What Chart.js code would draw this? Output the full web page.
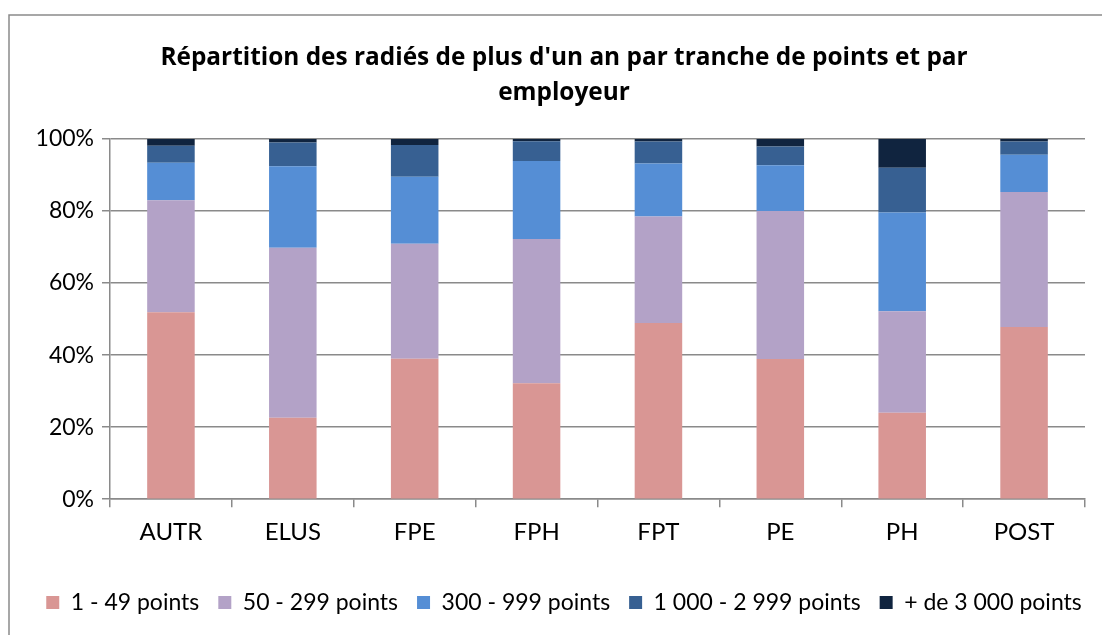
<!DOCTYPE html>
<html lang="fr">
<head>
<meta charset="utf-8">
<title>Répartition des radiés</title>
<script src="https://cdn.jsdelivr.net/npm/chart.js@4"></script>
<style>
  html, body { margin: 0; padding: 0; background: #fff; }
  #wrap { width: 1102px; height: 635px; position: relative; }
</style>
</head>
<body>
<div id="wrap"><canvas id="chart" width="1102" height="635"></canvas></div>
<script>
// Employer categories (x axis)
const employeurs = ['AUTR', 'ELUS', 'FPE', 'FPH', 'FPT', 'PE', 'PH', 'POST'];

// Share of each points bracket, in %
const tranche1_49     = [51.9, 22.6, 39.0, 32.2, 48.9, 38.9, 24.0, 47.8];
const tranche50_299   = [31.1, 47.2, 31.9, 40.0, 29.6, 41.1, 28.2, 37.5];
const tranche300_999  = [10.4, 22.6, 18.6, 21.7, 14.7, 12.7, 27.4, 10.3];
const tranche1000_2999 = [4.7, 6.6, 8.8, 5.5, 6.1, 5.2, 12.4, 3.7];
const tranche3000plus = [1.9, 1.0, 1.7, 0.6, 0.7, 2.1, 8.0, 0.7];

const seriesLabels = ['1 - 49 points', '50 - 299 points', '300 - 999 points', '1 000 - 2 999 points', '+ de 3 000 points'];
const seriesColors = ['#D99694', '#B3A2C7', '#558ED5', '#376092', '#10243F'];
const yTicks = [0, 20, 40, 60, 80, 100];

const FONT = 'Lato, "Open Sans", sans-serif';
const GRID = '#8a8a8a';

// Outer chart frame (cropped on the right and bottom like the original)
const framePlugin = {
    id: 'frame',
    beforeDraw(chart) {
        const ctx = chart.ctx;
        ctx.save();
        ctx.strokeStyle = '#8a8a8a';
        ctx.lineWidth = 1.5;
        ctx.beginPath();
        ctx.moveTo(9, chart.height);
        ctx.lineTo(9, 15);
        ctx.lineTo(chart.width, 15);
        ctx.stroke();
        ctx.restore();
    }
};

const allSeries = [tranche1_49, tranche50_299, tranche300_999, tranche1000_2999, tranche3000plus];

new Chart(document.getElementById('chart'), {
    type: 'bar',
    data: {
        labels: employeurs,
        datasets: allSeries.map((vals, i) => ({
            label: seriesLabels[i],
            data: vals,
            backgroundColor: seriesColors[i],
            borderWidth: 0,
            barPercentage: 0.39,
            categoryPercentage: 1
        }))
    },
    options: {
        responsive: false,
        animation: false,
        layout: { padding: { left: 26, right: 0, top: 0, bottom: 11 } },
        plugins: {
            title: {
                display: true,
                text: ["Répartition des radiés de plus d'un an par tranche de points et par", 'employeur'],
                color: '#000',
                font: { family: '"Open Sans", sans-serif', size: 24.4, weight: 'bold', lineHeight: 1.434 },
                padding: { top: 41, bottom: 28 }
            },
            legend: {
                position: 'bottom',
                labels: {
                    color: '#000',
                    font: { family: FONT, size: 23 },
                    boxWidth: 13,
                    boxHeight: 13,
                    padding: 19
                }
            },
            tooltip: { enabled: false }
        },
        scales: {
            x: {
                stacked: true,
                afterFit(scale) {
                    scale.height += 14;
                },
                border: { display: true, color: GRID, width: 1.5 },
                grid: {
                    display: true,
                    drawOnChartArea: false,
                    drawTicks: true,
                    tickLength: 8,
                    color: GRID,
                    lineWidth: 1.5,
                    offset: true
                },
                ticks: {
                    color: '#000',
                    font: { family: FONT, size: 24 },
                    padding: 11
                }
            },
            y: {
                stacked: true,
                min: 0,
                max: 100,
                afterBuildTicks(scale) {
                    scale.ticks = yTicks.map(v => ({ value: v }));
                },
                afterFit(scale) {
                    scale.width = 84;
                },
                border: { display: true, color: GRID, width: 1.5 },
                grid: {
                    color: GRID,
                    lineWidth: 1.5,
                    tickLength: 8
                },
                ticks: {
                    color: '#000',
                    font: { family: FONT, size: 23 },
                    padding: 8,
                    callback: v => v + '%'
                }
            },
            // empty right-hand axis, only reserves the margin right of the plot
            yRight: {
                position: 'right',
                min: 0,
                max: 1,
                afterFit(scale) {
                    scale.width = 17;
                },
                border: { display: false },
                grid: { display: false },
                ticks: { display: false }
            }
        }
    },
    plugins: [framePlugin]
});
</script>
</body>
</html>
